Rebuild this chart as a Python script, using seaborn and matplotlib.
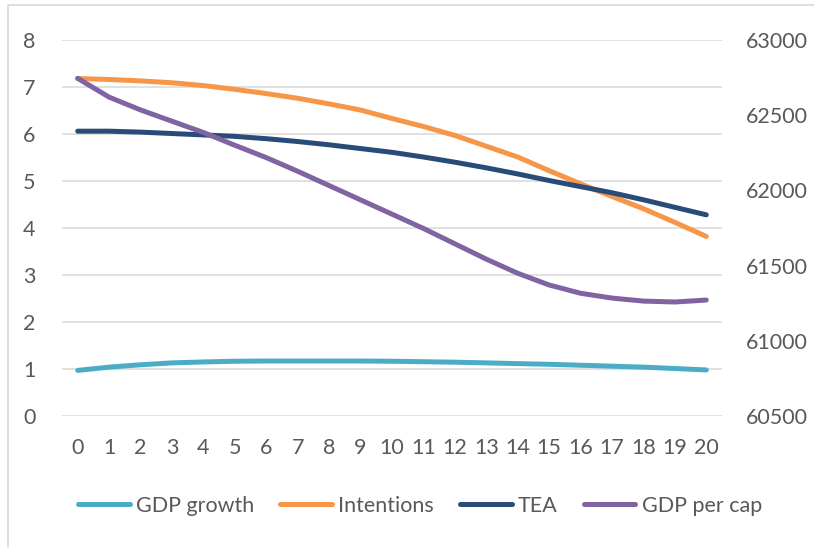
import matplotlib
matplotlib.use("Agg")
import matplotlib.pyplot as plt
import matplotlib.patches as mpatches
from matplotlib.lines import Line2D
import seaborn as sns

# Years after shock
periods = list(range(21))

# Left axis series
gdp_growth = [0.97, 1.04, 1.09, 1.13, 1.15, 1.165, 1.17, 1.17, 1.17, 1.17, 1.165,
              1.155, 1.145, 1.13, 1.115, 1.10, 1.08, 1.06, 1.04, 1.01, 0.98]
intentions = [7.18, 7.16, 7.13, 7.09, 7.03, 6.95, 6.86, 6.76, 6.64, 6.51, 6.33,
              6.16, 5.97, 5.74, 5.51, 5.22, 4.94, 4.67, 4.41, 4.12, 3.82]
tea = [6.06, 6.06, 6.04, 6.01, 5.98, 5.95, 5.90, 5.84, 5.77, 5.69, 5.61,
       5.51, 5.40, 5.28, 5.15, 5.01, 4.88, 4.75, 4.60, 4.44, 4.28]

# Right axis series
gdp_per_cap = [62745, 62620, 62535, 62460, 62385, 62300, 62218, 62127, 62032, 61937, 61842,
               61747, 61645, 61543, 61449, 61371, 61316, 61284, 61264, 61258, 61271]

left_ticks = [0, 1, 2, 3, 4, 5, 6, 7, 8]
right_ticks = [60500, 61000, 61500, 62000, 62500, 63000]

series_names = ["GDP growth", "Intentions", "TEA", "GDP per cap"]
colors = ["#4BACC6", "#F79646", "#284C77", "#8064A2"]

sns.set_theme(style="white")
plt.rcParams["font.family"] = ["Lato", "DejaVu Sans"]
text_color = "#595959"
fs = 15.5
lw = 3.6

fig = plt.figure(figsize=(8.14, 5.48), dpi=100)
ax = fig.add_axes([62 / 814, 1 - 416 / 548, (722 - 62) / 814, (416 - 40) / 548])
ax2 = ax.twinx()

line_kw = dict(linewidth=lw, solid_capstyle="round", solid_joinstyle="round")
sns.lineplot(x=periods, y=gdp_growth, ax=ax, color=colors[0], **line_kw)
sns.lineplot(x=periods, y=intentions, ax=ax, color=colors[1], **line_kw)
sns.lineplot(x=periods, y=tea, ax=ax, color=colors[2], **line_kw)
sns.lineplot(x=periods, y=gdp_per_cap, ax=ax2, color=colors[3], **line_kw)

ax.set_xlim(-0.5, 20.5)
ax.set_ylim(0, 8)
ax2.set_ylim(60500, 63000)
ax.set_xticks(periods)
ax.set_xticklabels([str(p) for p in periods])
ax.set_yticks(left_ticks)
ax2.set_yticks(right_ticks)

ax.yaxis.grid(True, color="#D9D9D9", linewidth=1.1)
ax.xaxis.grid(False)
ax2.grid(False)
ax.set_axisbelow(True)

for a in (ax, ax2):
    for s in a.spines.values():
        s.set_visible(False)
    a.tick_params(length=0, labelsize=fs, labelcolor=text_color)
ax.tick_params(axis="x", pad=16)
ax.tick_params(axis="y", pad=19)
ax2.tick_params(axis="y", pad=17)
ax.set_xlabel("")
ax.set_ylabel("")
ax2.set_ylabel("")

handles = [Line2D([0], [0], color=c, linewidth=lw, solid_capstyle="round") for c in colors]
fig.legend(handles, series_names, loc="center", bbox_to_anchor=(420 / 814, 1 - 506 / 548),
           ncol=4, frameon=False, fontsize=fs, labelcolor=text_color,
           handlelength=2.4, handletextpad=0.3, columnspacing=1.2)

# Chart frame
fig.patches.append(mpatches.Rectangle((8 / 814, -0.1), 1.2, 1 - 5 / 548 + 0.1,
                                      transform=fig.transFigure, fill=False,
                                      edgecolor="#D9D9D9", linewidth=1.2))

fig.savefig("out.png", dpi=100)
